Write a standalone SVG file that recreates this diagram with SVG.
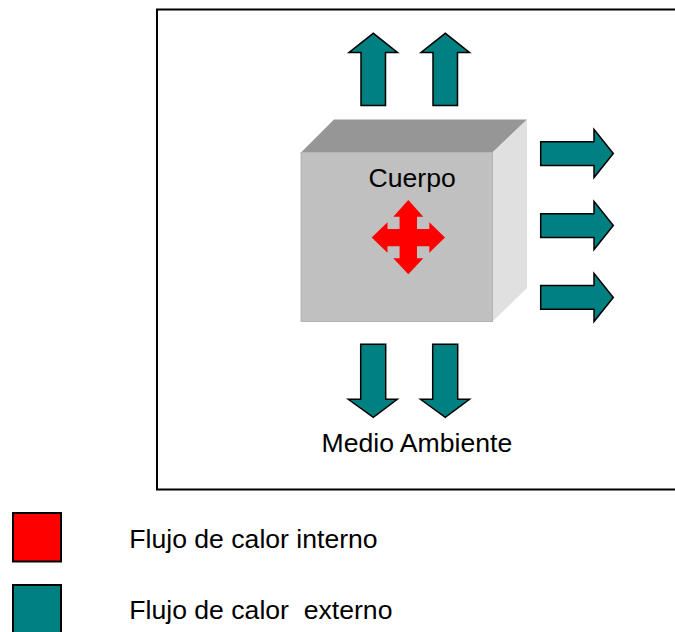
<svg xmlns="http://www.w3.org/2000/svg" width="675" height="632" viewBox="0 0 675 632">
  <style>
    .lbl { font-family: "Liberation Sans", Arial, sans-serif; font-size: 26.6px; fill: #000000; }
    .ext { fill: #008080; stroke: #000000; stroke-width: 1.5; stroke-linejoin: miter; }
    .sw { stroke: #000000; stroke-width: 2; }
  </style>
  <rect width="675" height="632" fill="#ffffff"/>
  <g id="frame">
    <rect x="157" y="9.5" width="530" height="480" fill="none" stroke="#000000" stroke-width="2"/>
  </g>
  <g id="cuerpo">
    <polygon points="301,152.5 334,119.5 527,119.5 492.5,152.5" fill="#969696"/>
    <polygon points="492.5,152.5 527,119.5 527,288 492.5,321.5" fill="#e0e0e0"/>
    <rect x="301" y="152.5" width="191.5" height="169" fill="#c0c0c0" stroke="#b4b4b4" stroke-width="1"/>
    <text class="lbl" x="368.5" y="186.7">Cuerpo</text>
    <path id="interno" fill="#ff0000" d="M408.3,200 L423.3,216.7 L417,216.7 L417,229 L429.3,229 L429.3,222.3 L445,237.5 L429.3,252.7 L429.3,246.3 L417,246.3 L417,258.3 L423.3,258.3 L408.3,274.3 L393.3,258.3 L399.6,258.3 L399.6,246.3 L387.5,246.3 L387.5,252.7 L371.7,237.5 L387.5,222.3 L387.5,229 L399.6,229 L399.6,216.7 L393.3,216.7 Z"/>
  </g>
  <g id="connectors">
    <path class="ext" d="M361,105.5 V52.5 H349 L373.3,33.3 L397.5,52.5 H385.5 V105.5 Z"/>
    <path class="ext" d="M433,105.5 V52.5 H421 L445.3,33.3 L469.5,52.5 H457.5 V105.5 Z"/>
    <path class="ext" d="M540.7,141.7 H594 V129.3 L613.3,153.5 L594,177.5 V165.5 H540.7 Z"/>
    <path class="ext" d="M540.7,213.7 H594 V201.3 L613.3,225.5 L594,249.5 V237.5 H540.7 Z"/>
    <path class="ext" d="M540.7,285.5 H594 V273.3 L613.3,297.5 L594,321.5 V309.3 H540.7 Z"/>
    <path class="ext" d="M360.7,344.3 H385.7 V399.3 H397.3 L373.3,417.3 L348.3,399.3 H360.7 Z"/>
    <path class="ext" d="M432.7,344.3 H457.7 V399.3 H469.5 L445.3,417.3 L420.5,399.3 H432.7 Z"/>
  </g>
  <g id="medio">
    <text class="lbl" x="321.5" y="451.7">Medio Ambiente</text>
  </g>
  <g id="leyenda-interno">
    <rect class="sw" x="13" y="513" width="48" height="48.5" fill="#ff0000"/>
    <text class="lbl" x="129.3" y="547.7">Flujo de calor interno</text>
  </g>
  <g id="leyenda-externo">
    <rect class="sw" x="13" y="585" width="48" height="60" fill="#008080"/>
    <text class="lbl" x="129.3" y="619" xml:space="preserve">Flujo de calor  externo</text>
  </g>
</svg>
